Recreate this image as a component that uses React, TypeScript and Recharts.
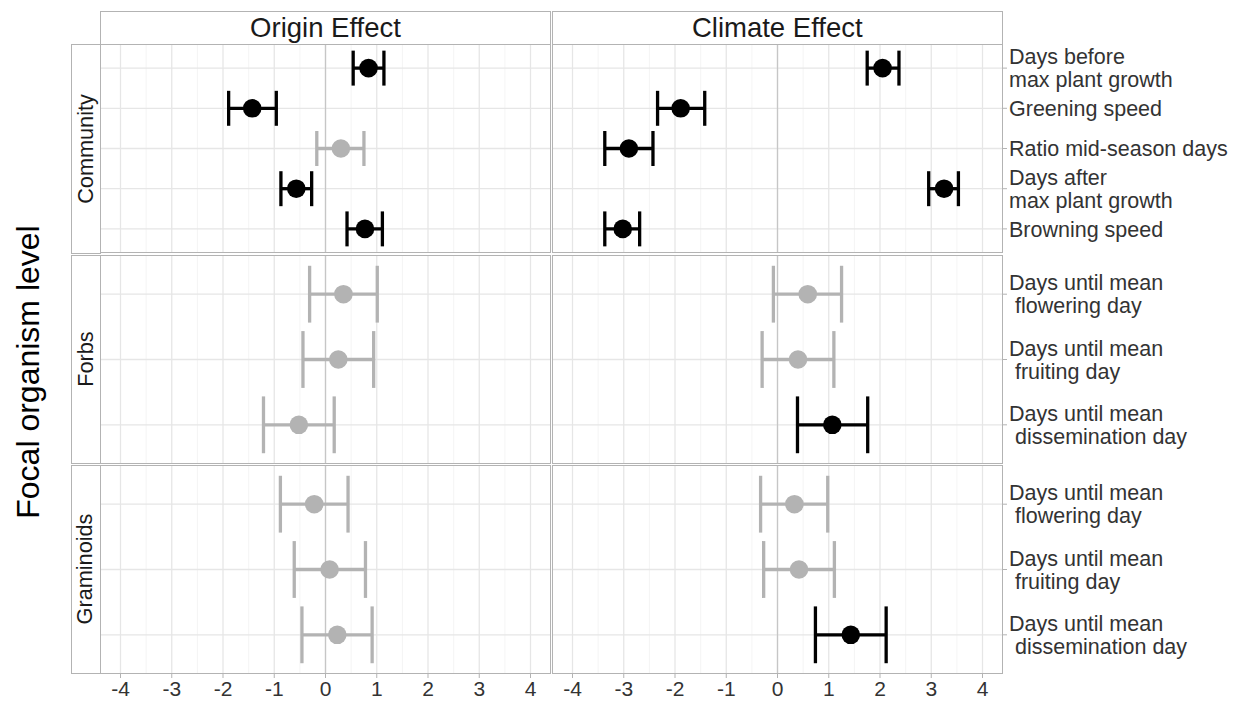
import React from "react";
import { ScatterChart, Scatter, XAxis, YAxis, ErrorBar, CartesianGrid } from "recharts";

const xTicks = [-4, -3, -2, -1, 0, 1, 2, 3, 4];
const xMinor = [-3.5, -2.5, -1.5, -0.5, 0.5, 1.5, 2.5, 3.5];
const effects = ["Origin Effect", "Climate Effect"];
const levels = ["Community", "Forbs", "Graminoids"];
const yTitle = "Focal organism level";

const communityTraits = [
  "Days before\nmax plant growth",
  "Greening speed",
  "Ratio mid-season days",
  "Days after\nmax plant growth",
  "Browning speed",
];
const speciesTraits = [
  "Days until mean\n flowering day",
  "Days until mean\n fruiting day",
  "Days until mean\n dissemination day",
];

const communityOriginEst = [0.84, -1.43, 0.3, -0.57, 0.77];
const communityOriginLow = [0.54, -1.89, -0.17, -0.87, 0.42];
const communityOriginHigh = [1.14, -0.96, 0.75, -0.27, 1.11];

const communityClimateEst = [2.05, -1.89, -2.9, 3.25, -3.02];
const communityClimateLow = [1.75, -2.34, -3.37, 2.95, -3.37];
const communityClimateHigh = [2.37, -1.42, -2.43, 3.53, -2.69];

const forbsOriginEst = [0.35, 0.25, -0.52];
const forbsOriginLow = [-0.31, -0.44, -1.21];
const forbsOriginHigh = [1.01, 0.94, 0.17];

const forbsClimateEst = [0.59, 0.4, 1.07];
const forbsClimateLow = [-0.08, -0.3, 0.39];
const forbsClimateHigh = [1.25, 1.1, 1.76];

const graminoidsOriginEst = [-0.22, 0.08, 0.23];
const graminoidsOriginLow = [-0.88, -0.61, -0.46];
const graminoidsOriginHigh = [0.44, 0.78, 0.91];

const graminoidsClimateEst = [0.33, 0.42, 1.43];
const graminoidsClimateLow = [-0.33, -0.27, 0.74];
const graminoidsClimateHigh = [0.98, 1.11, 2.12];

const FONT = "'Liberation Sans', Arial, sans-serif";
const PANEL_W = 451;
const PANEL_H = 209;
const COL_X = [100, 551.8];
const ROW_Y = [44, 254.5, 464.5];
const Y_AXIS_W = 240;
const X_AXIS_H = 28;
const BORDER = "#b3b3b3";
const SIG = "#000000";
const NS = "#b3b3b3";
const TEXT = "#333333";

const panels = [
  [
    { traits: communityTraits, est: communityOriginEst, low: communityOriginLow, high: communityOriginHigh },
    { traits: communityTraits, est: communityClimateEst, low: communityClimateLow, high: communityClimateHigh },
  ],
  [
    { traits: speciesTraits, est: forbsOriginEst, low: forbsOriginLow, high: forbsOriginHigh },
    { traits: speciesTraits, est: forbsClimateEst, low: forbsClimateLow, high: forbsClimateHigh },
  ],
  [
    { traits: speciesTraits, est: graminoidsOriginEst, low: graminoidsOriginLow, high: graminoidsOriginHigh },
    { traits: speciesTraits, est: graminoidsClimateEst, low: graminoidsClimateLow, high: graminoidsClimateHigh },
  ],
];

const TraitTick = (props: any) => {
  const { x, y, payload, labels } = props;
  const label: string = labels[payload.value] ?? "";
  const lines = label.split("\n");
  const lh = 23;
  return (
    <text x={x} y={y} fontSize={21.5} fill={TEXT} fontFamily={FONT} textAnchor="start" style={{ whiteSpace: "pre" }}>
      {lines.map((l, i) => (
        <tspan key={i} x={x} y={y + 7.8 + (i - (lines.length - 1) / 2) * lh}>
          {l}
        </tspan>
      ))}
    </text>
  );
};

const dot = (color: string) => (p: any) => <circle cx={p.cx} cy={p.cy} r={9.3} fill={color} />;

function Panel(props: {
  traits: string[];
  est: number[];
  low: number[];
  high: number[];
  showX: boolean;
  showY: boolean;
}) {
  const { traits, est, low, high, showX, showY } = props;
  const n = traits.length;
  const rows = traits.map((_, i) => ({
    y: i,
    x: est[i],
    err: [est[i] - low[i], high[i] - est[i]],
    sig: low[i] > 0 || high[i] < 0,
  }));
  const sigRows = rows.filter((r) => r.sig);
  const nsRows = rows.filter((r) => !r.sig);
  const idx = traits.map((_, i) => i);
  const unit = PANEL_H / (n + 0.2);
  const capHalf = unit * 0.435;
  return (
    <ScatterChart
      width={PANEL_W + (showY ? Y_AXIS_W : 0)}
      height={PANEL_H + (showX ? X_AXIS_H : 0)}
      margin={{ top: 0, right: 0, bottom: 0, left: 0 }}
    >
      <CartesianGrid verticalValues={xMinor} horizontal={false} stroke="#f1f1f1" strokeWidth={0.8} />
      <CartesianGrid verticalValues={xTicks} horizontalValues={idx} stroke="#e6e6e6" strokeWidth={1.3} />
      <CartesianGrid verticalValues={[0]} horizontal={false} stroke="#c6c6c6" strokeWidth={1.3} />
      <XAxis
        type="number"
        dataKey="x"
        domain={[-4.4, 4.4]}
        ticks={xTicks}
        hide={!showX}
        height={X_AXIS_H}
        axisLine={false}
        tickLine={{ stroke: BORDER }}
        tickSize={4}
        tickMargin={3}
        tick={{ fontSize: 21, fill: TEXT, fontFamily: FONT }}
        interval={0}
      />
      <YAxis
        type="number"
        dataKey="y"
        domain={[-0.6, n - 0.4]}
        reversed
        ticks={idx}
        hide={!showY}
        orientation="right"
        width={Y_AXIS_W}
        axisLine={false}
        tickLine={{ stroke: BORDER }}
        tickSize={4}
        tickMargin={2}
        interval={0}
        tick={(p: any) => <TraitTick {...p} labels={traits} />}
      />
      <Scatter data={nsRows} fill={NS} shape={dot(NS)} isAnimationActive={false}>
        <ErrorBar dataKey="err" direction="x" width={capHalf} stroke={NS} strokeWidth={3.3} />
      </Scatter>
      <Scatter data={sigRows} fill={SIG} shape={dot(SIG)} isAnimationActive={false}>
        <ErrorBar dataKey="err" direction="x" width={capHalf} stroke={SIG} strokeWidth={3.3} />
      </Scatter>
    </ScatterChart>
  );
}

export default function App() {
  return (
    <div style={{ position: "absolute", left: 0, top: 0, width: 1244, height: 704, background: "#fff", fontFamily: FONT, overflow: "hidden" }}>
      <style>{"body{margin:0;overflow:hidden}"}</style>
      {/* y title */}
      <div
        style={{
          position: "absolute",
          left: 28,
          top: 372,
          transform: "translate(-50%, -50%) rotate(-90deg)",
          fontSize: 32,
          color: "#000",
          whiteSpace: "nowrap",
        }}
      >
        {yTitle}
      </div>
      {/* column strips */}
      {effects.map((e, c) => (
        <div
          key={e}
          style={{
            position: "absolute",
            left: COL_X[c],
            top: 10.5,
            width: PANEL_W,
            height: 34,
            boxSizing: "border-box",
            border: `1.5px solid ${BORDER}`,
            background: "#fff",
            display: "flex",
            alignItems: "center",
            justifyContent: "center",
            fontSize: 27.5,
            color: "#1a1a1a",
          }}
        >
          {e}
        </div>
      ))}
      {/* row strips */}
      {levels.map((l, r) => (
        <div
          key={l}
          style={{
            position: "absolute",
            left: 71,
            top: ROW_Y[r],
            width: 29.5,
            height: PANEL_H + 0.5,
            boxSizing: "border-box",
            border: `1.5px solid ${BORDER}`,
            background: "#fff",
            display: "flex",
            alignItems: "center",
            justifyContent: "center",
          }}
        >
          <span style={{ transform: "rotate(-90deg)", fontSize: 21.7, color: "#1a1a1a", whiteSpace: "nowrap" }}>{l}</span>
        </div>
      ))}
      {/* panels */}
      {panels.map((row, r) =>
        row.map((p, c) => (
          <div key={`${r}-${c}`} style={{ position: "absolute", left: COL_X[c], top: ROW_Y[r] }}>
            <Panel {...p} showX={r === 2} showY={c === 1} />
            <div
              style={{
                position: "absolute",
                left: 0,
                top: 0,
                width: PANEL_W,
                height: PANEL_H,
                boxSizing: "border-box",
                border: `1.5px solid ${BORDER}`,
                pointerEvents: "none",
              }}
            />
          </div>
        ))
      )}
    </div>
  );
}
